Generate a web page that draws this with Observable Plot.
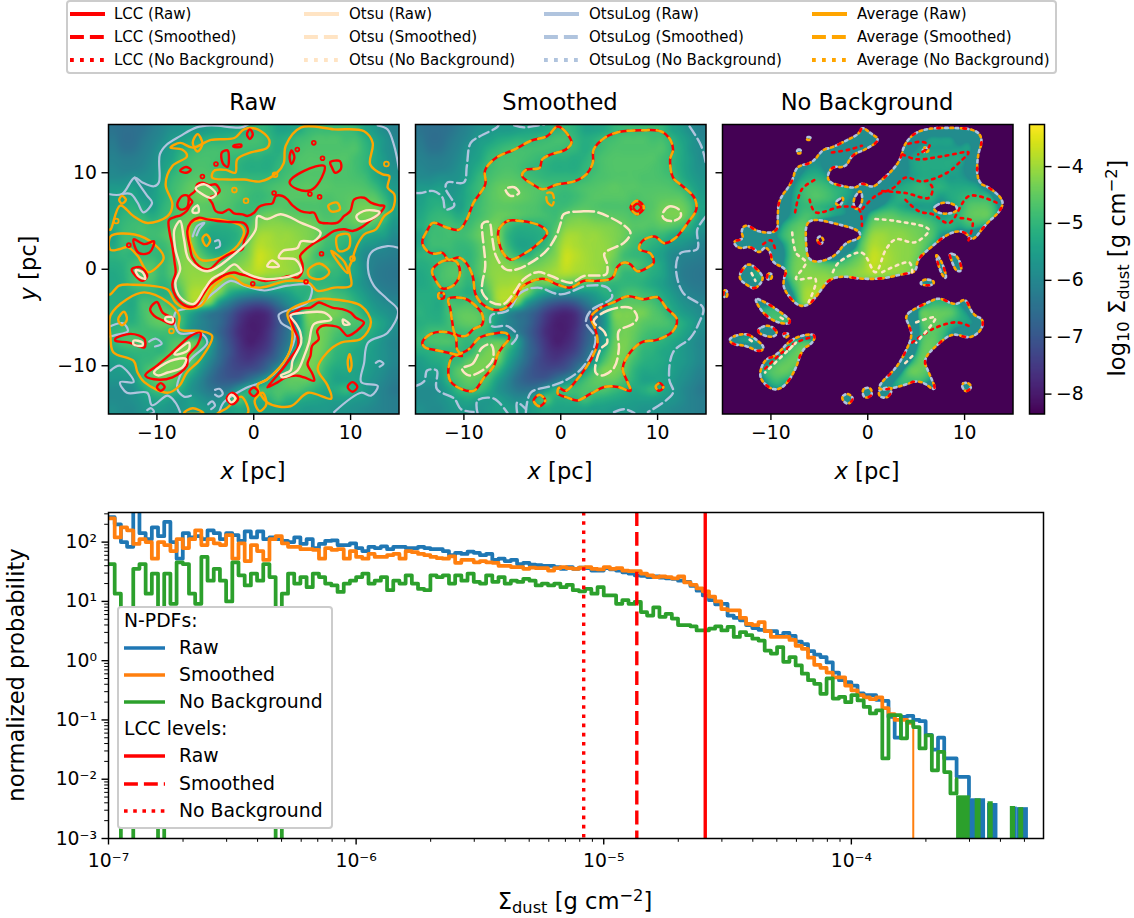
<!DOCTYPE html>
<html><head><meta charset="utf-8">
<script src="https://cdn.jsdelivr.net/npm/d3@7"></script>
<script src="https://cdn.jsdelivr.net/npm/@observablehq/plot@0.6"></script>
<style>
html,body{margin:0;padding:0;background:#fff}
#fig{position:relative;width:1134px;height:918px;overflow:hidden;font-family:"DejaVu Sans",sans-serif;color:#000}
#fig svg.plot,#fig>svg{position:absolute;background:transparent;overflow:visible}
.t{position:absolute;white-space:nowrap;line-height:1}
.t sub{font-size:.72em;vertical-align:-.25em;line-height:0}
.t sup{font-size:.72em;vertical-align:.45em;line-height:0}
.rot{transform:translate(-50%,-50%) rotate(-90deg)}
.ctr{transform:translate(-50%,-50%)}
.box{position:absolute;box-sizing:border-box;border:2px solid #ccc;border-radius:4px;background:#fff}
</style></head><body><div id="fig"></div>
<script>
// ---------- log10 surface density, rows y = 14.5 … -14.5, columns x = -14.5 … 14.5 (pc)
const fieldRows=[
[-6.4,-6.5,-6.5,-6.4,-6.2,-6.0,-5.8,-5.7,-5.6,-5.6,-5.5,-5.4,-5.4,-5.3,-5.1,-5.0,-5.1,-5.4,-5.4,-5.3,-5.0,-4.9,-4.9,-4.9,-4.9,-5.0,-5.4,-5.6,-5.9,-6.1],
[-6.3,-6.5,-6.5,-6.3,-6.1,-5.9,-5.6,-5.5,-5.3,-5.2,-5.1,-5.1,-5.0,-4.9,-4.8,-4.8,-5.0,-5.2,-5.1,-4.9,-4.8,-4.7,-4.7,-4.7,-4.8,-4.8,-5.1,-5.4,-5.7,-6.0],
[-6.2,-6.4,-6.4,-6.2,-6.0,-5.7,-5.5,-5.2,-5.0,-4.85,-4.8,-4.8,-4.8,-4.8,-4.85,-4.9,-5.0,-5.2,-5.0,-4.8,-4.7,-4.7,-4.7,-4.7,-4.7,-4.7,-5.0,-5.3,-5.7,-5.9],
[-6.1,-6.2,-6.2,-6.1,-5.9,-5.6,-5.4,-5.0,-4.8,-4.75,-4.75,-4.8,-4.9,-5.0,-5.1,-5.1,-5.2,-5.1,-4.85,-4.7,-4.65,-4.65,-4.65,-4.65,-4.65,-4.8,-5.0,-5.3,-5.6,-5.9],
[-6.0,-6.1,-6.1,-6.0,-5.8,-5.5,-5.2,-4.9,-4.75,-4.7,-4.75,-4.9,-5.0,-5.1,-5.2,-5.2,-5.2,-5.0,-4.85,-4.7,-4.65,-4.65,-4.65,-4.65,-4.7,-4.8,-5.0,-5.3,-5.6,-5.8],
[-5.9,-5.9,-5.8,-5.8,-5.7,-5.4,-5.0,-4.8,-4.65,-4.6,-4.65,-4.8,-4.9,-5.0,-5.0,-5.0,-5.0,-4.9,-4.75,-4.7,-4.65,-4.65,-4.65,-4.7,-4.7,-4.75,-4.85,-5.2,-5.5,-5.7],
[-5.6,-5.6,-5.5,-5.7,-5.6,-5.2,-4.9,-4.7,-4.5,-4.45,-4.5,-4.6,-4.65,-4.75,-4.85,-4.9,-4.8,-4.7,-4.65,-4.6,-4.55,-4.6,-4.6,-4.65,-4.65,-4.65,-4.7,-4.9,-5.3,-5.6],
[-5.5,-5.3,-5.3,-5.6,-5.5,-5.2,-4.9,-4.65,-4.5,-4.4,-4.45,-4.55,-4.65,-4.75,-4.9,-4.95,-4.85,-4.7,-4.6,-4.6,-4.6,-4.6,-4.7,-4.65,-4.6,-4.55,-4.55,-4.6,-5.0,-5.5],
[-5.4,-5.2,-5.1,-5.3,-5.5,-5.1,-4.85,-4.65,-4.55,-4.55,-4.6,-4.65,-4.7,-4.85,-4.9,-4.85,-4.7,-4.6,-4.65,-4.7,-4.7,-4.7,-4.75,-4.7,-4.6,-4.4,-4.35,-4.4,-4.75,-5.4],
[-5.3,-5.05,-4.95,-5.0,-5.2,-5.0,-4.8,-4.6,-4.45,-4.5,-4.6,-4.7,-4.75,-4.8,-4.85,-4.5,-4.35,-4.35,-4.45,-4.5,-4.55,-4.6,-4.7,-4.65,-4.55,-4.35,-4.3,-4.35,-4.8,-5.5],
[-5.2,-4.95,-4.85,-4.8,-4.9,-4.85,-4.6,-4.4,-4.35,-4.8,-5.1,-5.15,-5.1,-4.95,-4.7,-4.25,-4.15,-4.15,-4.2,-4.25,-4.3,-4.45,-4.6,-4.6,-4.65,-4.55,-4.6,-4.8,-5.2,-5.7],
[-5.4,-4.9,-4.85,-4.8,-4.85,-4.75,-4.5,-4.3,-4.3,-5.0,-5.3,-5.3,-5.25,-5.05,-4.5,-4.0,-3.95,-4.05,-4.05,-4.15,-4.25,-4.4,-4.7,-4.8,-4.9,-4.95,-5.2,-5.4,-5.5,-5.9],
[-5.3,-4.9,-4.85,-4.85,-4.95,-4.9,-4.65,-4.3,-4.25,-4.9,-5.35,-5.4,-5.2,-4.9,-4.3,-3.85,-3.9,-4.0,-4.05,-4.1,-4.25,-4.55,-4.85,-4.95,-5.1,-5.3,-5.6,-5.7,-5.9,-6.1],
[-5.1,-5.0,-5.05,-4.9,-4.95,-5.0,-4.7,-4.3,-4.2,-4.6,-5.0,-5.15,-4.8,-4.5,-4.2,-3.7,-3.8,-3.95,-4.05,-4.1,-4.35,-4.8,-4.95,-5.0,-5.3,-5.5,-5.9,-6.05,-6.1,-6.2],
[-5.2,-5.1,-4.85,-4.7,-4.7,-4.95,-4.65,-4.25,-4.15,-4.25,-4.4,-4.45,-4.4,-4.25,-4.05,-3.7,-3.85,-3.95,-4.05,-4.15,-4.5,-4.7,-4.7,-4.9,-5.1,-5.4,-5.9,-6.15,-6.25,-6.3],
[-5.3,-5.15,-4.8,-4.65,-4.65,-4.95,-4.65,-4.25,-4.1,-4.1,-4.1,-4.2,-4.2,-4.1,-4.0,-3.9,-4.0,-4.05,-4.1,-4.25,-4.5,-4.95,-5.0,-5.0,-5.2,-5.4,-5.85,-6.2,-6.3,-6.35],
[-5.3,-5.2,-4.85,-4.75,-4.8,-5.05,-4.85,-4.4,-4.05,-4.0,-3.95,-4.05,-4.5,-4.45,-4.5,-4.65,-4.7,-4.7,-4.85,-4.9,-5.0,-5.0,-5.0,-5.1,-5.3,-5.5,-5.8,-6.1,-6.25,-6.3],
[-5.2,-5.2,-5.15,-5.0,-5.0,-5.15,-5.0,-4.6,-3.95,-3.85,-3.85,-4.4,-5.2,-5.6,-5.8,-5.9,-5.8,-5.7,-5.5,-5.2,-5.1,-4.8,-4.7,-4.85,-5.0,-5.3,-5.6,-5.9,-6.1,-6.2],
[-5.15,-5.2,-5.25,-4.8,-4.8,-4.75,-4.95,-4.75,-4.1,-4.05,-4.4,-5.6,-6.2,-6.7,-7.0,-7.1,-6.9,-6.4,-5.9,-5.5,-4.9,-4.6,-4.55,-4.6,-4.75,-5.05,-5.4,-5.7,-5.9,-6.0],
[-5.1,-5.2,-5.2,-4.8,-4.55,-4.5,-4.6,-4.9,-5.3,-5.8,-6.2,-6.5,-6.9,-7.4,-7.7,-7.8,-7.6,-7.0,-6.4,-5.6,-4.4,-4.3,-4.3,-4.35,-4.6,-4.8,-5.2,-5.5,-5.7,-5.9],
[-5.15,-5.1,-5.1,-4.85,-4.6,-4.5,-4.55,-4.85,-5.6,-6.0,-6.3,-6.6,-7.1,-7.6,-7.9,-7.9,-7.7,-7.1,-6.5,-5.7,-4.5,-4.3,-4.35,-4.55,-4.65,-4.7,-4.85,-5.2,-5.5,-5.8],
[-5.05,-4.85,-4.8,-4.85,-4.85,-4.8,-4.85,-5.0,-5.6,-5.9,-6.2,-6.7,-7.2,-7.7,-7.9,-7.9,-7.6,-7.0,-6.4,-5.6,-4.6,-4.35,-4.45,-4.7,-4.85,-4.9,-5.0,-5.3,-5.6,-5.9],
[-5.0,-4.75,-4.7,-4.7,-4.85,-5.0,-4.75,-4.6,-4.5,-4.7,-5.5,-6.5,-7.1,-7.6,-7.9,-7.8,-7.5,-6.9,-6.3,-5.5,-4.5,-4.3,-4.5,-4.85,-5.0,-5.1,-5.3,-5.5,-5.8,-6.0],
[-5.2,-5.1,-5.0,-5.0,-5.0,-5.0,-4.6,-4.35,-4.3,-5.0,-5.7,-6.5,-7.0,-7.5,-7.7,-7.6,-7.3,-6.7,-6.0,-5.1,-4.4,-4.3,-4.6,-5.0,-5.1,-5.3,-5.4,-5.6,-5.8,-6.0],
[-5.5,-5.3,-5.2,-5.0,-4.9,-4.55,-4.35,-4.3,-4.45,-5.3,-6.0,-6.6,-7.1,-7.4,-7.5,-7.3,-6.9,-6.4,-5.5,-4.7,-4.3,-4.4,-4.8,-5.1,-5.2,-5.3,-5.5,-5.6,-5.8,-6.0],
[-5.6,-5.5,-5.4,-4.95,-4.55,-4.35,-4.3,-4.5,-5.0,-5.7,-6.3,-6.8,-7.1,-7.2,-7.1,-6.9,-6.4,-5.5,-4.8,-4.3,-4.3,-4.5,-5.0,-5.3,-5.3,-5.4,-5.5,-5.7,-5.9,-6.1],
[-5.7,-5.7,-5.6,-5.0,-4.7,-4.5,-4.6,-4.85,-5.5,-6.0,-6.5,-6.8,-6.9,-6.8,-6.4,-5.9,-5.3,-4.85,-4.55,-4.5,-4.5,-4.75,-5.1,-5.4,-5.4,-5.4,-5.6,-5.8,-6.0,-6.2],
[-5.9,-5.9,-5.8,-5.4,-4.95,-4.8,-4.85,-5.2,-5.7,-6.0,-6.3,-6.4,-6.2,-5.6,-5.1,-4.85,-4.85,-4.7,-4.7,-4.7,-4.9,-5.1,-5.3,-5.2,-5.0,-5.3,-5.6,-5.9,-6.1,-6.3],
[-5.9,-5.9,-5.8,-5.6,-5.4,-5.3,-5.5,-5.6,-5.5,-5.7,-5.9,-5.8,-5.1,-4.75,-5.2,-5.2,-5.1,-4.85,-5.1,-5.2,-5.3,-5.4,-5.5,-5.5,-5.5,-5.6,-5.7,-5.9,-6.1,-6.2],
[-5.8,-5.9,-5.9,-5.7,-5.6,-5.6,-5.7,-5.6,-5.5,-5.5,-5.6,-5.6,-5.4,-5.3,-5.4,-5.4,-5.4,-5.4,-5.5,-5.5,-5.6,-5.6,-5.6,-5.7,-5.7,-5.8,-5.9,-6.0,-6.1,-6.2]
];
const colorDomain=[-8.35,-3.26];
const backgroundLevel=-4.77, noBgFloor=-5.9;
const cbarTicks=[-8,-7,-6,-5,-4];
const panelTicks=[-10,0,10];

// ---------- Smoothed contours (pc)
const lccSmooth=[
[[-.3,14.8],[.7,14],[1.1,13.1],[.5,12.4],[-1,11.9],[-1.9,11.4],[-2.2,10.5],[-3.6,10.3],[-4,9.7],[-2.9,8.8],[-1.9,8.3],[-.3,8.8],[1.4,9.1],[2.6,9.8],[3.3,11],[3.4,12.4],[4.5,13.6],[5.9,14.2],[8.3,14.4],[10.3,14.3],[11.2,13.6],[11.6,12.4],[11.3,11.4],[11.6,9.5],[12.6,8.6],[13.8,7.4],[14,6.2],[13.1,4.8],[11.9,3.3],[10.7,2.7],[9.7,3.4],[8.4,2.9],[8.1,2.1],[9.3,1.6],[9.6,.7],[9,.2],[7.9,-.2],[7.2,.5],[6.6,.7],[5.9,.3],[5.3,-.9],[3.8,-1.2],[2.4,-1.2],[1,-1.9],[-.3,-1.6],[-1.7,-1],[-2.9,-1.2],[-4.1,-1.9],[-4.8,-3.1],[-5.9,-4.1],[-6.9,-4.2],[-8.1,-3.6],[-8.8,-2.6],[-9.1,-.7],[-9.8,.7],[-10.5,1.2],[-11.6,1],[-12.2,1.7],[-13.1,1.6],[-13.8,1.9],[-14.3,2.8],[-13.8,4],[-13.2,4.8],[-11.7,4.3],[-10.5,4.1],[-9.7,5.2],[-9,6.9],[-7.8,8.8],[-7.8,10.3],[-6.6,11.6],[-4.8,12.4],[-3.1,13.3],[-1.4,13.8]],
[[-6.4,4.1],[-5.5,5],[-4.1,5],[-2.1,4.5],[-1.4,3.8],[-2.4,2.6],[-3.8,1.6],[-5.2,1],[-5.9,1.6],[-6.4,2.9]],
[[-13,.3],[-12,.9],[-10.8,.8],[-10.4,-.4],[-11,-1.6],[-12.2,-2],[-13,-1],[-13.3,-.2]],
[[-11.6,-3.1],[-10,-3],[-9,-3.6],[-8.1,-4.7],[-8.1,-5.7],[-9,-6.2],[-9.8,-6.9],[-10.9,-6.7],[-11.2,-5.5],[-11.4,-4.1]],
[[-14.3,-7.6],[-13.4,-6.7],[-11.9,-6.5],[-10.9,-6.9],[-10.7,-8.3],[-10.2,-9],[-11,-8.8],[-12.8,-8.4],[-14,-8.1]],
[[-10.5,-8.8],[-9.5,-8.3],[-8.4,-7.1],[-7.1,-6.7],[-5.7,-6.6],[-5.3,-7.1],[-5.9,-7.9],[-6.5,-8.8],[-6.9,-10],[-7.9,-11.2],[-9,-12.6],[-10.3,-12.4],[-11.4,-11.6],[-11.6,-10.3],[-11.2,-9.1]],
[[3.1,-5],[4.1,-4],[5.5,-3.4],[6.9,-2.8],[8.6,-3.1],[10,-2.9],[10.9,-4],[12,-5.2],[11.6,-6.4],[10,-7.3],[8.3,-7.6],[6.9,-9],[6.4,-10.3],[6.9,-11.7],[7.2,-12.6],[5.9,-12.2],[4.5,-12.2],[3.1,-12.9],[1.7,-13.6],[.7,-13.3],[-.3,-12.9],[-.2,-12.3],[.5,-12.6],[1.7,-11.4],[2.6,-10.2],[3.3,-9],[3.8,-7.6],[3.5,-6]],
[[7.9,7.1],[8.6,6.4],[7.9,5.7],[7.2,6.4]],
[[-2.2,-13],[-1.6,-13.6],[-2.2,-14.2],[-2.8,-13.6]],
[[10.2,-11.8],[10.6,-12.2],[10.2,-12.6],[9.8,-12.2]],
[[-12.6,-2.5],[-12.1,-2.5],[-12.1,-3],[-12.6,-3]]
];
const avgSmoothExtra=[[[-1.4,7.9],[-1.4,7],[-.9,6.6],[-.7,7.2],[-.9,7.9]]];
const lccSmoothInner=[[[7.9,6.8],[8.3,6.4],[7.9,6],[7.5,6.4]]];
const otsuSmooth=[
[[.3,5.7],[2.4,6],[3.8,5.9],[6.6,4.5],[7.2,3.8],[6.6,2.8],[4.5,1.6],[4.8,.5],[4.7,-.5],[2.4,-.7],[1,-1.4],[-1,-.7],[-2.4,-.3],[-3.8,-1],[-4.8,-2.4],[-5.9,-3.6],[-7.2,-3.4],[-8.1,-2.4],[-8.1,-1.4],[-7.8,.3],[-8.1,3.8],[-8.1,4.7],[-7.4,4.9],[-7.1,3.4],[-6.7,1.4],[-5.7,0],[-4.5,0],[-1.7,1.7],[-.5,3.4],[0,4.8]],
[[-5.7,8.3],[-4.8,8.5],[-4.3,7.9],[-5.2,7.6]],
[[10.5,5.7],[11.2,6.5],[12.2,6.2],[12.4,5.5],[11.6,5],[10.7,5.2]],
[[3.4,-5.4],[4.8,-4.3],[7.2,-4],[7.9,-5],[7.4,-5.7],[6,-6.4],[6,-8.3],[5.5,-10.2],[4.3,-11],[3.6,-10.7],[4.1,-8.3],[4.8,-7.6],[4.5,-6.5]],
[[-10.2,-10.3],[-9.1,-9.8],[-8.1,-8.1],[-7.2,-7.8],[-7,-9.3],[-8.1,-10.5],[-9.5,-11]]
];
const logSmooth=[
[[-15,7.9],[-14.5,7.9],[-13.1,8.1],[-12.2,7.4],[-11.9,6.2],[-11,6.6],[-11.9,8.4],[-11.7,9],[-10,9],[-9.7,10.7],[-9.3,13.1],[-8.3,13.8],[-6.6,14.7],[-6.4,15]],
[[-4.8,14.9],[-3.8,14.7],[-2.4,14.9],[-1.7,15]],
[[13.3,14.8],[14.5,12.8],[15,10.9]],
[[15,5.5],[14.1,4.1],[14.1,2.1],[12.4,1.7],[11.9,.3],[12.6,-2.4],[14.7,-4],[14.3,-5.5],[13.4,-7.1],[11.6,-8.6],[11.2,-11.4],[11.6,-12.8],[9,-14.8]],
[[5.5,-14.8],[6.6,-14.5],[7.6,-14.9]],
[[-3.6,-14.8],[-3.1,-12.8],[-1,-12.1],[.7,-11.4],[2.4,-10],[3.6,-7.2],[2.6,-5.5],[3.1,-4.3],[5.3,-2.9],[4.8,-1.9],[2.8,-1.7],[0,-2.6],[-2.4,-1.9],[-4.1,-2.4],[-5.5,-4.3],[-7.2,-4.8],[-7.1,-5.9],[-5.5,-5.9],[-4.5,-6.9],[-5.2,-7.9]],
[[-15,-12.1],[-14.1,-11.6],[-13.8,-10.5],[-12.8,-10.5],[-12.8,-12.4],[-11,-13.4],[-10.3,-14.5],[-9,-14.8]],
[[-8.6,-14.9],[-8.6,-13.6],[-6.9,-13.4],[-5.5,-14.9]],
[[-4.5,-14.9],[-4.5,-13.8],[-3.6,-14.5]]
];

// ---------- Raw contours (pc)
const lccRaw=[
[[-8.76,5.1],[-8.17,5.41],[-7.55,5.59],[-6.93,6.03],[-6.59,6.62],[-6.34,6.97],[-6.69,7.52],[-6.07,8.1],[-5.83,8.79],[-5.31,8.97],[-4.62,8.72],[-3.93,8.79],[-3.52,8.1],[-4.1,7.59],[-4.62,7.41],[-4.28,6.83],[-3.93,6.03],[-3.24,5.86],[-2.55,6.2],[-2.03,5.79],[-1.17,5.69],[-.66,5.52],[.03,5.86],[.55,6.48],[1.24,6.72],[1.93,6.83],[2.28,7.59],[2.97,7.59],[3.48,7.24],[4,6.62],[4.86,6.03],[5.72,5.86],[6.24,5.86],[6.76,4.9],[7.62,4.76],[8.66,4.83],[9.34,5.52],[9.97,6.03],[10.38,7.24],[11.41,7.41],[12.1,6.9],[12.97,6.62],[13.48,6.55],[13.07,5.86],[12.1,5.1],[11.07,4.31],[10.21,3.97],[9.34,4.14],[8.31,3.97],[7.28,3.28],[6.07,2.59],[5.21,1.9],[4.79,1.38],[5.03,.52],[5.03,-.17],[4.52,-.86],[3.66,-.69],[2.45,-1.03],[1.07,-1.21],[.38,-1.03],[-.66,-.69],[-1.34,-.52],[-2.03,-.34],[-2.9,-.52],[-3.76,-1.03],[-4.62,-1.72],[-5.31,-2.76],[-6,-3.79],[-6.86,-3.86],[-7.72,-3.28],[-8.24,-2.41],[-8.41,-1.55],[-8.07,-.34],[-8.17,.69],[-8.41,2.41],[-8.69,3.79]],
[[-6.86,3.97],[-6.52,4.83],[-5.66,5.34],[-4.79,5.17],[-3.76,5],[-2.55,4.9],[-1,4.76],[-.59,3.97],[-1,2.93],[-1.17,2.07],[-2.21,1.72],[-3.41,1.03],[-4.62,0],[-5.66,.34],[-6.34,1.21],[-6.59,2.24]],
[[-7.9,6.7],[-7.4,7.6],[-6.8,7.6],[-6.9,6.4],[-7.6,6.2]],
[[3.7,9],[5.2,10.2],[7.3,10.7],[6.8,9.1],[5.9,8.2],[4.5,8.3]],
[[3.7,11.6],[3.9,12.3],[4.2,11.6],[3.9,10.9]],
[[-3.3,12.1],[-2.7,12.3],[-2.7,10.6],[-3.2,11]],
[[-7.6,10.2],[-7,10.6],[-6.5,10.3],[-7,10]],
[[-2.1,12.8],[-1.3,12.9],[-1.3,12.7],[-2.1,12.7]],
[[-.7,14],[-.4,14.5],[-.1,14],[-.4,13.5]],
[[7.9,11.1],[8.9,11.2],[9,10.4],[8.4,10],[8.1,10.5]],
[[-12.4,3.1],[-11.3,2.6],[-10.3,2.9],[-10.8,1.7],[-11.9,1.7]],
[[-12.6,0],[-11.7,.2],[-11,-.7],[-11.5,-1.2],[-12.2,-.7]],
[[-10.7,-4.1],[-10,-3.4],[-9.4,-4.5],[-8.2,-5.2],[-8.4,-5.7],[-9.4,-5.3],[-10.3,-4.8]],
[[-14.3,-7.2],[-12.7,-6.7],[-11.3,-7.2],[-11.3,-8.1],[-12.9,-7.6],[-14.3,-7.4]],
[[-11.2,-11],[-10,-10],[-8.6,-8.8],[-6.5,-6.9],[-5.5,-6.6],[-5.8,-7.8],[-6.8,-9],[-6.9,-10],[-8.4,-11.2],[-10.3,-11.4]],
[[3.83,-4.66],[4.17,-4.48],[5,-4.07],[5.86,-3.97],[6.72,-3.45],[7.24,-3.62],[8.1,-3.97],[9.14,-4.14],[10,-4.48],[10.52,-5],[11.38,-5.52],[11.03,-6.03],[10.17,-6.72],[9.66,-6.9],[8.79,-6.03],[8.1,-5.86],[7.07,-5.86],[6.55,-6.38],[6.72,-7.24],[6.03,-7.93],[5.86,-8.97],[5.55,-9.83],[6.07,-10.86],[6.24,-11.55],[5.21,-11.21],[4.52,-11.03],[3.31,-11.21],[2.45,-11.72],[1.41,-12.24],[2.1,-11.38],[2.97,-10.34],[3.83,-9.14],[4.52,-8.1],[4.59,-7.24],[4.17,-6.21],[3.83,-5.17]],
[[-2.2,-12.8],[-1.6,-13.4],[-2.2,-14],[-2.8,-13.4]],
[[10.2,-11.7],[10.7,-12.2],[10.2,-12.7],[9.7,-12.2]],
[[0,-12.25],[.45,-12.7],[0,-13.15],[-.45,-12.7]],
[[-9.6,-11.8],[-9.2,-12.2],[-9.6,-12.6],[-10,-12.2]]
];
const lccRawSpecks=[[4.5,12.4],[6.2,13.1],[-3.9,10.9],[7.1,11.5],[5.8,7.8],[6.8,7.5],[2.1,7.9],[-5.3,9.6],[-12.9,2.5],[7,1.6],[-.1,-1.5],[5.4,-1.3]];
const otsuRaw=[
[[.4,5.5],[1.4,5.2],[2.8,5.7],[4.9,4.8],[6.9,3.8],[6.2,2.9],[4.9,2.9],[4.5,2.2],[3,1.9],[2.6,1.2],[4.3,1],[4.9,-.2],[4.2,-.6],[1.1,-1],[-1,-.3],[-2,.5],[-3.1,-.3],[-4.3,-1],[-5.1,-2.1],[-6.2,-3.6],[-7.6,-2.9],[-8.1,-1.4],[-7.6,0],[-8.1,2.1],[-8.2,4.1],[-7.6,5],[-7.2,3.1],[-6.7,1],[-4.8,-.2],[-2.2,1.4],[-.7,2.8],[.2,4.1]],
[[1.9,.9],[2.6,.3],[1.4,.3]],
[[-6,8.4],[-5.1,8.8],[-3.9,7.8],[-4.4,7.4],[-5.5,7.9]],
[[-6.3,6.2],[-5.8,6.6],[-5.7,5.9],[-6.3,5.9]],
[[10.6,5.5],[11.6,6.1],[13,5.9],[12.1,5.2],[10.9,5]],
[[-12.2,-.1],[-11.5,-.3],[-11.2,-1],[-11.9,-.7]],
[[-12.4,-7.4],[-11.5,-7.6],[-11.5,-7.9],[-12.4,-7.8]],
[[-9.1,-5],[-8.4,-5],[-8.4,-5.5],[-9.1,-5.3]],
[[-8.2,-8.8],[-6.7,-7.6],[-6.7,-8.3],[-7.7,-8.8]],
[[-10.3,-10.7],[-8.6,-9.5],[-7,-9.3],[-7.4,-10.2],[-8.9,-10.7],[-9.9,-11]],
[[3.8,-4.8],[5.2,-4.5],[7.3,-4.5],[8,-5.2],[6.2,-5.7],[5.7,-7.6],[5.2,-9],[4.5,-10.5],[3,-11.2],[2.8,-11],[3.8,-10.5],[4,-9.5],[4.9,-7.6],[4.8,-6.5],[4.4,-5.7]],
[[9.2,-5.2],[9.9,-5.7],[9.3,-5.7]],
[[-2.3,-13],[-1.9,-13.4],[-2.3,-13.8],[-2.6,-13.4]]
];
const avgRaw=[
[[-8.6,12.6],[-7.6,13.1],[-6.3,12.6],[-4.4,13.4],[-2,13.6],[-1,14.5],[.4,14.5],[1.6,13.4],[1.4,12.6],[-.3,12.1],[-1.7,11.4],[-1.9,10],[-2.9,10.3],[-4.1,10.2],[-4.3,9.5],[-2.7,9.3],[-1,9.3],[.7,9.1],[2.4,10],[3.1,11],[3.3,12.8],[4.9,14.7],[8.3,14.5],[11.4,14.3],[12.28,13.1],[12.03,10.86],[13.31,9.83],[14,9.66],[13.83,8.45],[14.52,7.76],[14.34,6.2],[13.48,5.52],[12.62,4.14],[11.41,3.62],[10.72,2.59],[10.38,1.72],[10.21,1.03],[9.86,.17],[10.03,-1.72],[8.31,-1.9],[6.59,-2.24],[5.7,-1.4],[3.5,-1.2],[.7,-1.9],[-1,-1.6],[-2.4,-.7],[-4.1,-1.7],[-5.5,-3.8],[-7.2,-4],[-8.1,-3.4],[-8.9,-2.1],[-10.7,-1.7],[-12.4,-1.6],[-13.9,-1.7],[-14.8,-2.6],[-15,-2.6],[-15,4.1],[-14.8,4.1],[-13.8,6.6],[-12.4,5.5],[-11,4.8],[-8.9,5.5],[-8.4,6.7],[-9.1,8.8],[-8.4,10.7],[-6.9,11.7],[-7.4,12.4]],
[[-14.8,2],[-13.8,2.1],[-13,2.3],[-12,1.4],[-10.9,-.3],[-9.9,.3],[-9.3,1.2],[-10.3,2.6],[-12.3,3.6],[-14.8,3.4]],
[[-14.8,-4.8],[-13.1,-3.1],[-11.3,-2.4],[-8.9,-3.4],[-7.7,-4.8],[-7.7,-6.2],[-5.5,-6.4],[-4.3,-6.9],[-5.5,-9.3],[-6.9,-10.7],[-7.7,-12.1],[-8.9,-12.8],[-11.3,-11.7],[-12,-10.7],[-12.4,-9.5],[-14.5,-8.6],[-14.8,-6.9]],
[[3.5,-4.5],[6.6,-3.1],[8,-3.1],[11.1,-3.8],[12.1,-5.5],[11.1,-7.2],[9,-7.6],[7.6,-8.6],[6.6,-10.3],[7.6,-12],[8,-13.4],[5.6,-12.8],[3.8,-14.2],[1.4,-13.8],[.4,-12],[1.4,-11.4],[3.5,-9],[4,-6.2]],
[[-6.5,4.8],[-4.4,5.2],[-1.3,4.5],[-1,3.8],[-2,2.1],[-4.1,1],[-5.5,1],[-6.3,2.1],[-6.7,3.8]],
[[-5.3,3.2],[-4.9,3.6],[-4.5,3],[-4.9,2.4]],
[[7.7,6.6],[8.6,6.9],[8.9,6.2],[8,6]],
[[8.6,3.4],[9.8,3.6],[9.8,2.2],[8.8,1.9]],
[[8,1.9],[9.4,.7],[9.7,-.4],[8.8,.6]],
[[5.6,-.1],[6.8,.6],[7.8,-.3],[7,-1],[5.8,-.8]],
[[-6.3,13.1],[-5.8,14],[-5.3,13],[-5.8,12.2]],
[[-13.9,7.2],[-13.6,7.6],[-13.2,7.2],[-13.6,6.8]],
[[-14,-5.2],[-13.4,-4.4],[-13.1,-5.2],[-13.6,-5.8]],
[[.1,-13.6],[.9,-12.8],[1.3,-14],[.6,-14.7]],
[[9.7,-9.6],[9.9,-8.8],[10.1,-10],[9.9,-10.6]],
[[-5.2,-14.9],[-6.3,-14.4],[-7.2,-14.9]],
[[-3.8,-15],[-2.8,-14.4],[-1.3,-13.2],[-.6,-14.9]]
];
const avgRawSpecks=[[13.7,10.9],[10.2,1.1],[-14.2,5],[2.2,9.8],[-2,8.2],[-.8,7.1],[-8.5,-6.4]];
const logRaw=[
[[-15,7.8],[-13.6,7.8],[-12.3,9.5],[-11.5,9],[-10.3,8.6],[-9.8,9],[-9.7,11.9],[-9,12.9],[-7.6,13.8],[-5.9,14.7],[-4.4,14.9],[-1.3,14.7],[-.6,15]],
[[-12.3,9.5],[-11,7.6],[-10.5,6.9],[-11.4,5.9],[-12,6.9],[-12.7,7.8],[-13.6,7.8]],
[[12.8,14.9],[13.8,14.5],[14.5,12.8],[15,10.3]],
[[15,2.2],[13.8,2.4],[12.1,1.7],[11.8,0],[12.4,-1.7],[13.8,-3.1],[14.9,-4.3],[13.8,-6.6],[11.8,-7.6],[11.4,-9.7],[11.1,-11.7],[12.8,-12.1],[12.1,-13.1],[11.1,-12.8],[8.3,-14.8]],
[[-7.6,-14.8],[-8.1,-13.8],[-8.9,-13.1],[-10.5,-14.1],[-11,-12.8],[-13.1,-12.8],[-13.8,-11.7],[-12.4,-11.7],[-13.8,-10],[-14.8,-10.5]],
[[-6.5,-13.1],[-7.2,-13.2],[-7.9,-12.4],[-7.6,-11],[-6.5,-9.3],[-4.8,-7.6],[-5.5,-6.6],[-7.7,-6.6],[-8.1,-4.5],[-5.8,-3.8],[-4.1,-2.4],[-2.4,-1.2],[-1,-1.7],[1.1,-2.2],[3.5,-1.7],[5.9,-1.7],[5.6,-3.4],[2.6,-4.7],[2.8,-5.5],[4.2,-6.6],[3.5,-9],[1.4,-11.4],[-1,-12.4],[-3.1,-13.8],[-3.6,-15]],
[[-15,-6],[-13.5,-5.6],[-13,-6.4],[-14.2,-6.8],[-15,-7]],
[[-10.8,-7.5],[-10.1,-7.2],[-9.5,-7.7],[-10.2,-8]],
[[-6.3,3.4],[-5.8,4.5],[-5.1,4.8],[-5.6,4.2],[-5.9,3.5]],
[[-4,2.9],[-3.6,3],[-3.5,2.4],[-3.9,2.2]],
[[-4,-12.5],[-3.5,-12.4],[-3.2,-12.9],[-3.6,-13.2],[-4,-13]],
[[-4.7,-14],[-4.3,-13.7],[-4,-14.1],[-4.4,-14.5]],
[[12.6,-9.7],[13,-9.5],[13.4,-9.8],[13,-10.1]],
[[-11,-14.6],[-10.6,-14.4],[-10.3,-14.8],[-10.7,-15]]
];

// ---------- No Background: islands of data above the background cut (pc)
const islandsCoarse=[
[[-4.7,12.4],[-3.7,12.6],[-2.3,13.3],[-.9,14],[-.6,14.8],[.3,14.1],[1.3,13.4],[-.2,12.4],[-1.6,11.9],[-2.3,10.5],[-3.8,10.7],[-4.3,9.1],[-2.6,8.6],[-1.2,8.4],[-.6,9],[.5,8.4],[1.5,9.3],[2.6,10.3],[3.4,11.4],[3.8,13.1],[5.3,14.5],[8.4,14.7],[11.2,14.5],[11.9,13.4],[11.3,11.7],[11.3,9],[12.7,8.4],[14.1,7.1],[13.6,5.9],[12.2,4.7],[10.8,2.8],[10,4],[8.4,3.8],[6.3,2.1],[5.1,1],[5,-.3],[3.6,-.5],[1.5,-1],[-.9,-1],[-2.4,-.7],[-4,-1],[-5,-2.4],[-6.1,-3.8],[-7.3,-3.8],[-8.7,-2.1],[-8.7,-1],[-8.3,0],[-9.9,.7],[-10,1.7],[-10.6,2.4],[-11.2,1.6],[-12.1,2.4],[-13.3,2.1],[-14,2.9],[-12.8,3.1],[-13.1,4],[-12.6,4.7],[-11.2,3.8],[-9.3,3.8],[-9.3,5.5],[-9.2,7.2],[-7.8,9],[-7.4,10.7],[-5.7,11]],
[[-13.1,-.2],[-12.3,.7],[-11.2,-.2],[-10.7,-1],[-11.6,-2.1],[-12.4,-1.7],[-13.3,-1]],
[[-11.8,-2.9],[-10.6,-3.4],[-9.5,-4.1],[-8,-5.2],[-8.1,-5.7],[-9.5,-5.5],[-10.9,-4.5]],
[[-11.4,-6.2],[-10.2,-5.7],[-9.2,-6.6],[-9.9,-7.1],[-11.2,-6.7]],
[[-14.4,-7.1],[-12.6,-6.6],[-11.6,-7.2],[-10.6,-8.1],[-11.2,-8.6],[-12.6,-7.9],[-14,-7.8]],
[[-11.2,-10.7],[-10.6,-9.3],[-9.5,-9],[-7.8,-7.1],[-5.4,-6.6],[-5.6,-7.6],[-6.8,-8.3],[-7.4,-10.3],[-8.5,-12.1],[-9.7,-12.6],[-10.9,-11.7]],
[[3.8,-4.8],[5,-4],[6.3,-3.4],[7.4,-2.9],[9.1,-3.8],[10.1,-2.9],[10.8,-4.7],[12,-5.2],[11.7,-6.4],[10.5,-7.2],[8.8,-6.6],[7.4,-7.6],[5.7,-9.3],[6.3,-10.7],[7.2,-12.8],[5.3,-11.4],[3.6,-12.1],[1.2,-12.6],[1.2,-11.9],[2.9,-10.3],[3.9,-8.6],[4.6,-6.9],[4.3,-5.9]],
[[1.1,-12.4],[2.6,-12.2],[2.2,-13.3],[1.2,-13.3]],
[[-.6,-12.4],[.3,-12.2],[.5,-13.1],[-.4,-13.4]],
[[9.6,-11.9],[10.3,-11.7],[10.8,-12.2],[10.1,-12.8]],
[[-2.8,-13.3],[-2.1,-12.8],[-1.4,-13.4],[-2.1,-14.1]],
[[8.4,1.7],[9.3,1.4],[9.8,-.2],[9.1,-.2],[8.6,1]],
[[5.8,-1],[6.9,-1.2],[6.7,-1.7],[5.3,-1.6]],
[[7,1.7],[7.7,.7],[8.2,-1],[7.7,-.7],[7.2,.7]],
[[-8.8,-6.6],[-8,-6.7],[-8.5,-7.2]],
[[-5.3,3.1],[-4.9,3.5],[-4.5,3],[-4.9,2.5]],
[[-10.4,-.5],[-9.9,-.4],[-9.9,-1],[-10.4,-1.1]],
[[-6.3,13.7],[-5.9,13.7],[-5.9,13.4],[-6.3,13.4]],
[[-7.3,12.4],[-6.9,12.4],[-6.9,12],[-7.3,12]],
[[-14.9,-2.2],[-14.5,-2.2],[-14.5,-2.9],[-14.9,-2.9]]
];
const holesCoarse=[
[[-6.4,4.8],[-5.4,5.2],[-3.6,4.8],[-.9,4.1],[-.7,3.2],[-2.3,2.8],[-3.3,1.4],[-5,.7],[-6.2,1],[-6.4,2.8]],
[[6.7,6.4],[7.8,7],[9.1,6.7],[9.3,6],[8.1,5.7],[7.1,5.9]],
[[5.7,12.6],[6.2,12.6],[6.3,12.2],[5.7,12.1]],
[[-3.5,6.9],[-2.4,7.6],[-2.8,6.5]],
[[-1.6,7.1],[-.7,8.4],[-.5,6.9],[-1.2,6]]
];
const lccNoBgInner=[
[[3.6,11.9],[5,11.4],[7.7,11.7],[10.4,12.1],[9.6,11.2],[8.2,10],[5.6,9.1],[3.9,9.5],[2.6,8.4],[.8,7.6],[-.6,6.2]],
[[1.5,8.1],[3.9,7.9],[6.3,7.4],[6.7,8.4],[6.3,9]],
[[3.9,7.2],[5.3,6],[6.7,5.7],[8.4,4.8],[10.5,7.6],[13.3,6.9]],
[[-6,7.2],[-5.4,5.9],[-2.6,6.5],[-.9,6.2],[-.6,4.5]],
[[-7.5,5.9],[-6.8,8.3],[-5.4,9.3]],
[[-3.7,12.1],[-1.9,12.4],[-.6,12.8]],
[[-10.6,-10.3],[-8.8,-8.6],[-7.4,-7.6],[-5.7,-7]],
[[4.6,-7.6],[6.7,-6.2],[9.1,-5.5],[10.5,-5.9]],
[[4.2,13],[5.6,13.2],[6.4,12.8],[5.2,11.9]],
[[-10.8,2.6],[-10,3],[-9.6,2.2]],
[[10.4,3],[10.8,5],[9.6,5.3]]
];
const otsuNoBg=[
[[.8,5.2],[2.9,5],[6.3,4.1],[4.9,2.8],[2.9,3.1],[1.9,2.1],[.8,-.3],[-.6,1.7],[-3,.7],[-3.6,-.3]],
[[1.5,-.3],[4.3,.7],[4.6,-.3]],
[[-7.8,3.8],[-7.4,1.7],[-6.4,.7],[-7.4,-1],[-5.4,-1],[-6.1,-3.4]],
[[5,-5.5],[7,-5],[5,-7.6]],
[[4.6,-9],[3.6,-10]],
[[-8.1,-8.3],[-7.4,-7.6],[-10.6,-10.7]],
[[-12,-.4],[-11.6,-1.2]],
[[-9,-5],[-8.5,-5.3]],
[[-12.2,-7.3],[-11.6,-7.7]]
];

// ---------- N-PDF histograms: log10 probability per bin, bins start at 10^-7 every 0.025 dex
const binStart=-7, binWidth=0.025;
const belowAxis=-5;
const pdfRaw=[2.42,2.3,2,1.92,2.58,2.15,2.05,2.25,2.1,2.34,2,1.72,2.15,2.08,2.1,2.05,2.2,2.15,2.05,2.15,2.12,2.02,2.18,2.08,2.18,2.05,2.08,2.05,2.02,2,2.08,1.97,2.05,1.9,1.97,2.02,2.03,1.95,1.95,1.98,1.9,1.85,1.92,1.9,1.93,1.88,1.92,1.92,1.9,1.9,1.92,1.9,1.88,1.88,1.85,1.78,1.82,1.8,1.84,1.82,1.78,1.8,1.7,1.72,1.68,1.7,1.63,1.65,1.62,1.61,1.6,1.6,1.58,1.55,1.58,1.55,1.57,1.56,1.52,1.52,1.56,1.54,1.52,1.49,1.47,1.44,1.43,1.41,1.42,1.4,1.39,1.38,1.35,1.33,1.26,1.18,1.1,1.02,.95,.96,.76,.72,.68,.6,.55,.52,.5,.5,.42,.47,.42,.32,.28,.16,.1,.06,-.03,-.2,-.33,-.36,-.42,-.55,-.58,-.58,-.66,-.68,-.95,-1.3,-.95,-.93,-1,-1.02,-1.25,-1.5,-1.3,-1.65,-1.65,-1.96,-1.96,-2.3];
const pdfSmooth=[2.4,2.08,2.25,2.2,1.97,2.05,2,1.72,2,1.95,1.85,2.05,1.9,2.05,2.2,1.95,2.05,1.98,1.95,2.12,1.72,1.98,1.68,1.95,1.85,1.7,2.05,2.1,1.98,1.92,1.92,1.88,1.88,1.87,1.72,1.9,1.87,1.88,1.72,1.85,1.75,1.72,1.8,1.75,1.75,1.78,1.8,1.72,1.85,1.83,1.8,1.78,1.75,1.73,1.72,1.76,1.65,1.7,1.7,1.66,1.68,1.66,1.65,1.6,1.6,1.58,1.58,1.55,1.57,1.56,1.56,1.52,1.56,1.58,1.56,1.55,1.57,1.58,1.55,1.54,1.58,1.55,1.56,1.52,1.51,1.51,1.47,1.44,1.41,1.42,1.41,1.39,1.42,1.32,1.28,1.22,1.17,1.08,1,.87,.85,.85,.72,.62,.6,.65,.5,.4,.4,.4,.35,.25,.2,.05,-.07,-.12,-.2,-.28,-.28,-.42,-.5,-.58,-.62,-.65,-.62,-.8,-.9,-1,-1,-1.05,-1.1];
const pdfNoBg=[1.63,1.13,belowAxis,belowAxis,1.55,1.63,1.13,1.47,belowAxis,1.47,.96,1.66,1.63,1.13,.96,1.75,1.35,1.55,1.35,1,1.66,1.44,1.27,1.47,1.35,1.63,1.41,belowAxis,1.13,1.47,1.3,1.41,1.24,1.47,1.41,1.3,1.27,1.16,1.3,1.35,1.41,1.47,1.3,1.35,1.41,1.19,1.35,1.3,1.44,1.3,1.21,1.19,1.44,1.41,1.44,1.3,1.44,1.35,1.47,1.33,1.3,1.44,1.33,1.41,1.3,1.35,1.33,1.38,1.35,1.27,1.3,1.27,1.3,1.24,1.28,1.19,1.17,1.21,1.13,1.24,1.1,1.1,.96,1.02,.96,.99,.82,.76,.9,.74,.79,.71,.6,.6,.58,.51,.51,.54,.58,.51,.57,.4,.48,.43,.37,.34,.17,.12,.23,-.02,.06,-.08,-.22,-.33,-.39,-.56,-.3,-.64,-.61,-.7,-.58,-.67,-.78,-.89,-.84,-1.65,-.92,-.92,-1.31,-1.03,-1.12,-1.48,-1.26,-1.85,-1.54,-1.88,-2.24,-2];
const smoothDropX=-3.75;
// tail columns of one-count bins: [log10 x start, log10 x end, log10 y]
const rawTail=[[-3.56,-3.458,-2.33],[-3.45,-3.408,-2.41],[-3.352,-3.33,-2.47],[-3.33,-3.285,-2.48]];
const noBgTail=[[-3.575,-3.52,-2.28],[-3.5,-3.476,-2.33],[-3.448,-3.427,-2.38],[-3.358,-3.337,-2.46],[-3.324,-3.304,-2.48]];
const lccLevels={raw:2.57e-5,smoothed:1.36e-5,noBg:8.3e-6};
const pdfXTicks=[-7,-6,-5,-4], pdfYTicks=[-3,-2,-1,0,1,2];

// ---------- colours and dash patterns
const cLcc="#ff0000",cOtsu="#ffe4c4",cLog="#b0c4de",cAvg="#ffa500";
const cBlue="#1f77b4",cOrange="#ff7f0e",cGreen="#2ca02c";
const fontFam='"DejaVu Sans", sans-serif';
const tickFont=18.8, labelFont=22.6, titleFont=22.6, topLegendFont=15, pdfLegendFont=18.8;
const tickOpt={tickSize:6.5,tickPadding:5,strokeWidth:1.4,fontSize:tickFont,label:null};

// ---------- helpers
const rows=ps=>ps.flatMap((p,i)=>p.map(([x,y])=>({x,y,id:i})));
const cr=(a,b,c,d,t)=>.5*(2*b+(c-a)*t+(2*a-5*b+4*c-d)*t*t+(3*b-a-3*c+d)*t*t*t);
function fieldAt(x,y){
  const fx=Math.max(0,Math.min(28.999,x+14.5)), fy=Math.max(0,Math.min(28.999,14.5-y));
  const i=Math.floor(fx),j=Math.floor(fy),a=fx-i,b=fy-j;
  const cl=(v,n)=>Math.max(0,Math.min(n,v));
  const rowVal=jj=>{const R=fieldRows[cl(jj,29)];return cr(R[cl(i-1,29)],R[i],R[i+1],R[cl(i+2,29)],a);};
  return cr(rowVal(j-1),rowVal(j),rowVal(j+1),rowVal(j+2),b);
}
function chaikin(p,n){let q=p;for(let k=0;k<n;k++){q=q.flatMap((pt,i)=>{const nx=q[(i+1)%q.length];return [[.75*pt[0]+.25*nx[0],.75*pt[1]+.25*nx[1]],[.25*pt[0]+.75*nx[0],.25*pt[1]+.75*nx[1]]];});}return q;}
const islands=islandsCoarse.map(p=>chaikin(p,2));
const holes=holesCoarse.map(p=>chaikin(p,2));
const inAny=(ps,pt)=>ps.some(p=>d3.polygonContains(p,pt));
const colorOpt={type:"linear",scheme:"viridis",domain:colorDomain};
const supDigit={"-":"⁻","0":"⁰","1":"¹","2":"²","3":"³","4":"⁴","5":"⁵","6":"⁶","7":"⁷","8":"⁸","9":"⁹"};
const pow10=e=>"10"+String(e).split("").map(c=>supDigit[c]).join("");
const minusFmt=d=>String(d).replace("-","−");

const fig=document.getElementById("fig");
function place(svg,left,top){svg.style.position="absolute";svg.style.left=left+"px";svg.style.top=top+"px";svg.style.maxWidth="none";fig.appendChild(svg);}
function text(html,x,y,size,cls){const d=document.createElement("div");d.className="t "+(cls||"");d.innerHTML=html;d.style.left=x+"px";d.style.top=y+"px";d.style.fontSize=size+"px";fig.appendChild(d);return d;}

function panel(left,showLabels,fill,overlay){
  const mL=60,mT=6,mB=40,mR=6,w=290.5,h=289.5;
  const svg=Plot.plot({
    width:mL+w+mR,height:mT+h+mB,marginLeft:mL,marginRight:mR,marginTop:mT,marginBottom:mB,
    style:{fontFamily:fontFam,fontSize:tickFont+"px",background:"transparent",color:"#000",overflow:"visible"},
    x:{domain:[-15,15]},y:{domain:[-15,15]},color:colorOpt,
    marks:[
      Plot.raster({fill,x1:-15,x2:15,y1:-15,y2:15,pixelSize:1,imageRendering:"auto"}),
      ...overlay,
      Plot.axisX({...tickOpt,ticks:panelTicks,tickFormat:minusFmt}),
      Plot.axisY({...tickOpt,ticks:panelTicks,tickFormat:showLabels?minusFmt:(()=>"")}),
      Plot.frame({stroke:"#000",strokeWidth:1.5})
    ]});
  place(svg,left-mL,124-mT);
}
const L=(ps,o)=>Plot.line(rows(ps),{x:"x",y:"y",z:"id",clip:true,fill:"none",...o});

// Raw
panel(108,true,(x,y)=>fieldAt(x,y),[
  L(logRaw,{stroke:cLog,strokeWidth:2.2,curve:"catmull-rom"}),
  L(avgRaw,{stroke:cAvg,strokeWidth:2.4,curve:"catmull-rom-closed"}),
  Plot.dot(avgRawSpecks,{x:d=>d[0],y:d=>d[1],r:2.4,stroke:cAvg,strokeWidth:1.8,clip:true}),
  L(lccRaw,{stroke:cLcc,strokeWidth:2.4,curve:"catmull-rom-closed"}),
  Plot.dot(lccRawSpecks,{x:d=>d[0],y:d=>d[1],r:1.9,stroke:cLcc,strokeWidth:1.8,clip:true}),
  L(otsuRaw,{stroke:cOtsu,strokeWidth:2.4,curve:"catmull-rom-closed"})
]);
// Smoothed
const dashS="10.2 4.4", dashA="6.6 8";
panel(415,false,(x,y)=>fieldAt(x,y),[
  L(logSmooth,{stroke:cLog,strokeWidth:2.4,strokeDasharray:dashS,curve:"catmull-rom"}),
  L(lccSmooth,{stroke:cLcc,strokeWidth:2.5,strokeDasharray:dashS,curve:"catmull-rom-closed"}),
  L(lccSmoothInner,{stroke:cLcc,strokeWidth:2.4,strokeDasharray:"4 2",curve:"catmull-rom-closed"}),
  L(lccSmooth,{stroke:cAvg,strokeWidth:2.5,strokeDasharray:dashA,strokeDashoffset:-9,curve:"catmull-rom-closed"}),
  L(avgSmoothExtra,{stroke:cAvg,strokeWidth:2.4,strokeDasharray:dashS,curve:"catmull-rom-closed"}),
  L(otsuSmooth,{stroke:cOtsu,strokeWidth:2.5,strokeDasharray:dashS,curve:"catmull-rom-closed"})
]);
// No Background
const dotN="2.6 7.8", dotI="2.6 4.8";
const noBgValue=v=>{const d=10**v-10**backgroundLevel;return d>0?Math.max(noBgFloor,Math.log10(d)):noBgFloor;};
panel(722,false,(x,y)=>{const p=[x,y];return (inAny(islands,p)&&!inAny(holes,p))?noBgValue(fieldAt(x,y)):colorDomain[0];},[
  L(islands,{stroke:cLog,strokeWidth:2.6,strokeDasharray:dotN,curve:"linear-closed"}),
  L(holes,{stroke:cLog,strokeWidth:2.6,strokeDasharray:dotN,curve:"linear-closed"}),
  L(islands,{stroke:cAvg,strokeWidth:2.6,strokeDasharray:dotN,strokeDashoffset:5.2,curve:"linear-closed"}),
  L(holes,{stroke:cAvg,strokeWidth:2.6,strokeDasharray:dotN,strokeDashoffset:5.2,curve:"linear-closed"}),
  L(lccNoBgInner,{stroke:cLcc,strokeWidth:2.6,strokeDasharray:dotI,curve:"catmull-rom"}),
  L(islands,{stroke:cLcc,strokeWidth:2.6,strokeDasharray:"2.6 23.4",strokeDashoffset:13,curve:"linear-closed"}),
  L(otsuNoBg,{stroke:cOtsu,strokeWidth:2.6,strokeDasharray:dotI,curve:"catmull-rom"})
]);
// Colour bar
(function(){
  const mL=4,mR=50,mT=6,mB=6,w=15,h=289.5;
  const svg=Plot.plot({width:mL+w+mR,height:mT+h+mB,marginLeft:mL,marginRight:mR,marginTop:mT,marginBottom:mB,
    style:{fontFamily:fontFam,fontSize:tickFont+"px",background:"transparent",color:"#000",overflow:"visible"},
    x:{domain:[0,1],axis:null},y:{domain:colorDomain},color:colorOpt,
    marks:[
      Plot.raster({fill:(x,y)=>y,x1:0,x2:1,y1:colorDomain[0],y2:colorDomain[1],width:2,height:290}),
      Plot.axisY({...tickOpt,anchor:"right",ticks:cbarTicks,tickFormat:minusFmt}),
      Plot.frame({stroke:"#000",strokeWidth:1.5})
    ]});
  place(svg,1029-mL,124-mT);
})();
// N-PDF panel
(function(){
  const mL=70,mR=10,mT=6,mB=36,w=935,h=326;
  const series=(arr)=>arr.map((v,i)=>({x:10**(binStart+i*binWidth),y:10**v}));
  const minor=(lo,hi)=>d3.range(lo,hi+1).flatMap(e=>[2,3,4,5,6,7,8,9].map(m=>m*10**e));
  const rect=(arr,c)=>Plot.rect(arr,{x1:d=>10**d[0],x2:d=>10**d[1],y1:1e-3,y2:d=>10**d[2],fill:c,clip:true});
  const line=(arr,c)=>Plot.line(series(arr),{x:"x",y:"y",curve:"step-after",stroke:c,strokeWidth:3.76,strokeLinejoin:"round",clip:true});
  const svg=Plot.plot({width:mL+w+mR,height:mT+h+mB,marginLeft:mL,marginRight:mR,marginTop:mT,marginBottom:mB,
    style:{fontFamily:fontFam,fontSize:tickFont+"px",background:"transparent",color:"#000",overflow:"visible"},
    x:{type:"log",domain:[1e-7,5.97e-4]},y:{type:"log",domain:[1e-3,316]},
    marks:[
      rect(rawTail,cBlue),
      line(pdfRaw,cBlue),
      Plot.ruleX([10**smoothDropX],{y1:1e-3,y2:10**-1.1,stroke:cOrange,strokeWidth:2}),
      line(pdfSmooth,cOrange),
      rect(noBgTail,cGreen),
      line(pdfNoBg,cGreen),
      Plot.ruleX([lccLevels.raw],{stroke:cLcc,strokeWidth:3.4}),
      Plot.ruleX([lccLevels.smoothed],{stroke:cLcc,strokeWidth:3.4,strokeDasharray:"13.9 6"}),
      Plot.ruleX([lccLevels.noBg],{stroke:cLcc,strokeWidth:3.4,strokeDasharray:"3.6 5.6"}),
      Plot.axisX({...tickOpt,tickPadding:9,ticks:pdfXTicks.map(e=>10**e),tickFormat:d=>pow10(Math.round(Math.log10(d)))}),
      Plot.axisX({ticks:minor(-7,-4).filter(d=>d<5.97e-4),tickSize:3.8,label:null,tickFormat:()=>""}),
      Plot.axisY({...tickOpt,ticks:pdfYTicks.map(e=>10**e),tickFormat:d=>pow10(Math.round(Math.log10(d)))}),
      Plot.axisY({ticks:minor(-3,2).filter(d=>d<316),tickSize:3.8,label:null,tickFormat:()=>""}),
      Plot.frame({stroke:"#000",strokeWidth:1.5})
    ]});
  place(svg,108-mL,512-mT);
})();

// ---------- titles and axis labels
[["Raw",253],["Smoothed",560],["No Background",867]].forEach(([t,x])=>text(t,x,102,titleFont,"ctr"));
[253,560,867].forEach(x=>text('<i>x</i> [pc]',x,471,labelFont,"ctr"));
text('<i>y</i> [pc]',28,268,labelFont,"rot");
text('log<sub>10</sub> Σ<sub>dust</sub> [g cm<sup>−2</sup>]',1117,268,labelFont,"rot");
text('normalized probability',16,675,labelFont,"rot");
text('Σ<sub>dust</sub> [g cm<sup>−2</sup>]',575,901,labelFont,"ctr");

// ---------- top legend
const topLegendRows=[["Raw",null],["Smoothed","13.9 6"],["No Background","3.8 6.2"]];
const topLegendCols=[["LCC",cLcc,70,114],["Otsu",cOtsu,304,349],["OtsuLog",cLog,544,589],["Average",cAvg,812,857]];
const topBox=document.createElement("div");topBox.className="box";
Object.assign(topBox.style,{left:"66px",top:"0px",width:"991px",height:"74px"});fig.appendChild(topBox);
const keys=d3.create("svg").attr("width",1134).attr("height",918).style("pointer-events","none").style("left","0").style("top","0");
topLegendCols.forEach(([n,c,sx,tx])=>topLegendRows.forEach(([r,dash],i)=>{
  const y=14+i*23;
  keys.append("line").attr("x1",sx).attr("x2",sx+35).attr("y1",y).attr("y2",y).attr("stroke",c).attr("stroke-width",3.76).attr("stroke-dasharray",dash);
  text(`${n} (${r})`,tx,y-topLegendFont/2,topLegendFont);
}));
// ---------- N-PDF legend
const pdfBox=document.createElement("div");pdfBox.className="box";
Object.assign(pdfBox.style,{left:"117px",top:"606px",width:"216px",height:"223px"});fig.appendChild(pdfBox);
const pdfLegend=[["N-PDFs:",621,null,null],["Raw",648,cBlue,null],["Smoothed",675,cOrange,null],["No Background",702,cGreen,null],["LCC levels:",729,null,null],["Raw",756,cLcc,null],["Smoothed",784,cLcc,"13.9 6"],["No Background",811,cLcc,"3.6 5.6"]];
pdfLegend.forEach(([t,y,c,dash])=>{
  if(c){keys.append("line").attr("x1",124).attr("x2",165).attr("y1",y).attr("y2",y).attr("stroke",c).attr("stroke-width",3.4).attr("stroke-dasharray",dash);
    text(t,179,y-pdfLegendFont/2,pdfLegendFont);}
  else text(t,124,y-pdfLegendFont/2,pdfLegendFont);
});
fig.appendChild(keys.node());
</script></body></html>
